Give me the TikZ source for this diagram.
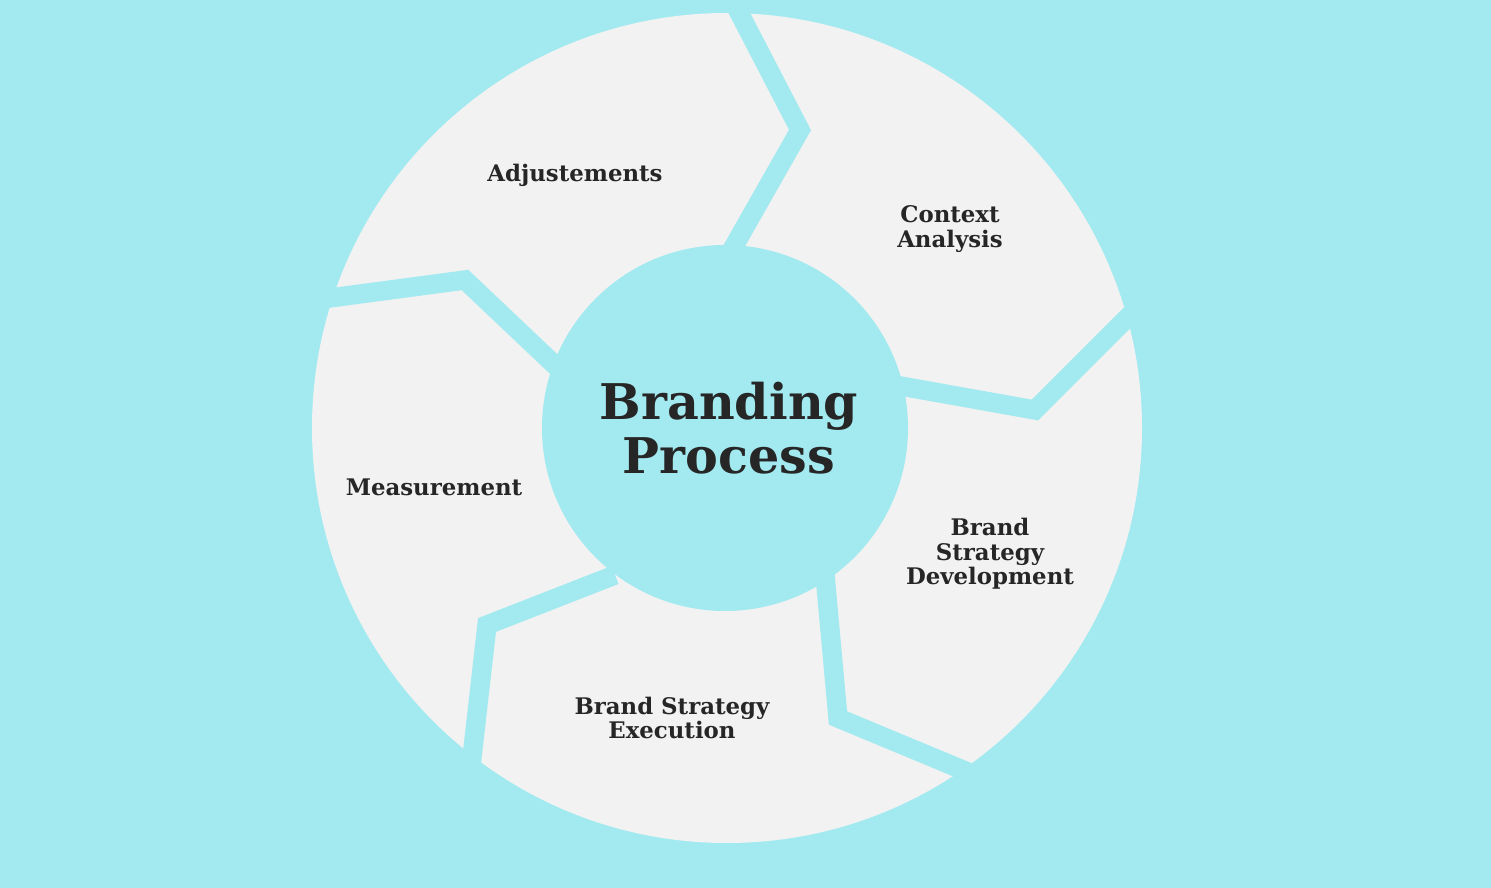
\documentclass[tikz,border=0pt]{standalone}
\usepackage{fontspec}
\setmainfont{DejaVu Serif}
\definecolor{bgcyan}{HTML}{A2EAF0}
\definecolor{ringgray}{HTML}{F2F2F2}
\tikzset{
	stage/.style={font=\bfseries\fontsize{13}{14}\selectfont, align=center, text=black!85},
	gap/.style={draw=bgcyan, line width=11pt, line join=miter},
}
\begin{document}
\begin{tikzpicture}[x=0.02cm, y=-0.02cm]
	\fill[bgcyan] (0,0) rectangle (1491,888);
	\useasboundingbox (0,0) rectangle (1491,888);
	
	\fill[ringgray] (727,428) circle[radius=415];
	
	\draw[gap] (725,262) -- (800,130) -- (730,-5);
	\draw[gap] (895,385) -- (1035,410) -- (1140,305);
	\draw[gap] (825,575) -- (838,718) -- (975,775);
	\draw[gap] (615,575) -- (487,625) -- (470,775);
	\draw[gap] (560,370) -- (465,280) -- (315,300);
	
	\fill[bgcyan] (725,428) circle[radius=183];
	
	\node[font=\bfseries\fontsize{28}{31}\selectfont, align=center, text=black!85] (title) at (729,428) {Branding\\Process};
	\node[stage] (adjust) at (575,175) {Adjustements};
	\node[stage] (context) at (950,229) {Context\\Analysis};
	\node[stage] (develop) at (990,554) {Brand\\Strategy\\Development};
	\node[stage] (execute) at (672,718) {Brand Strategy\\Execution};
	\node[stage] (measure) at (434,487) {Measurement};
\end{tikzpicture}
\end{document}
